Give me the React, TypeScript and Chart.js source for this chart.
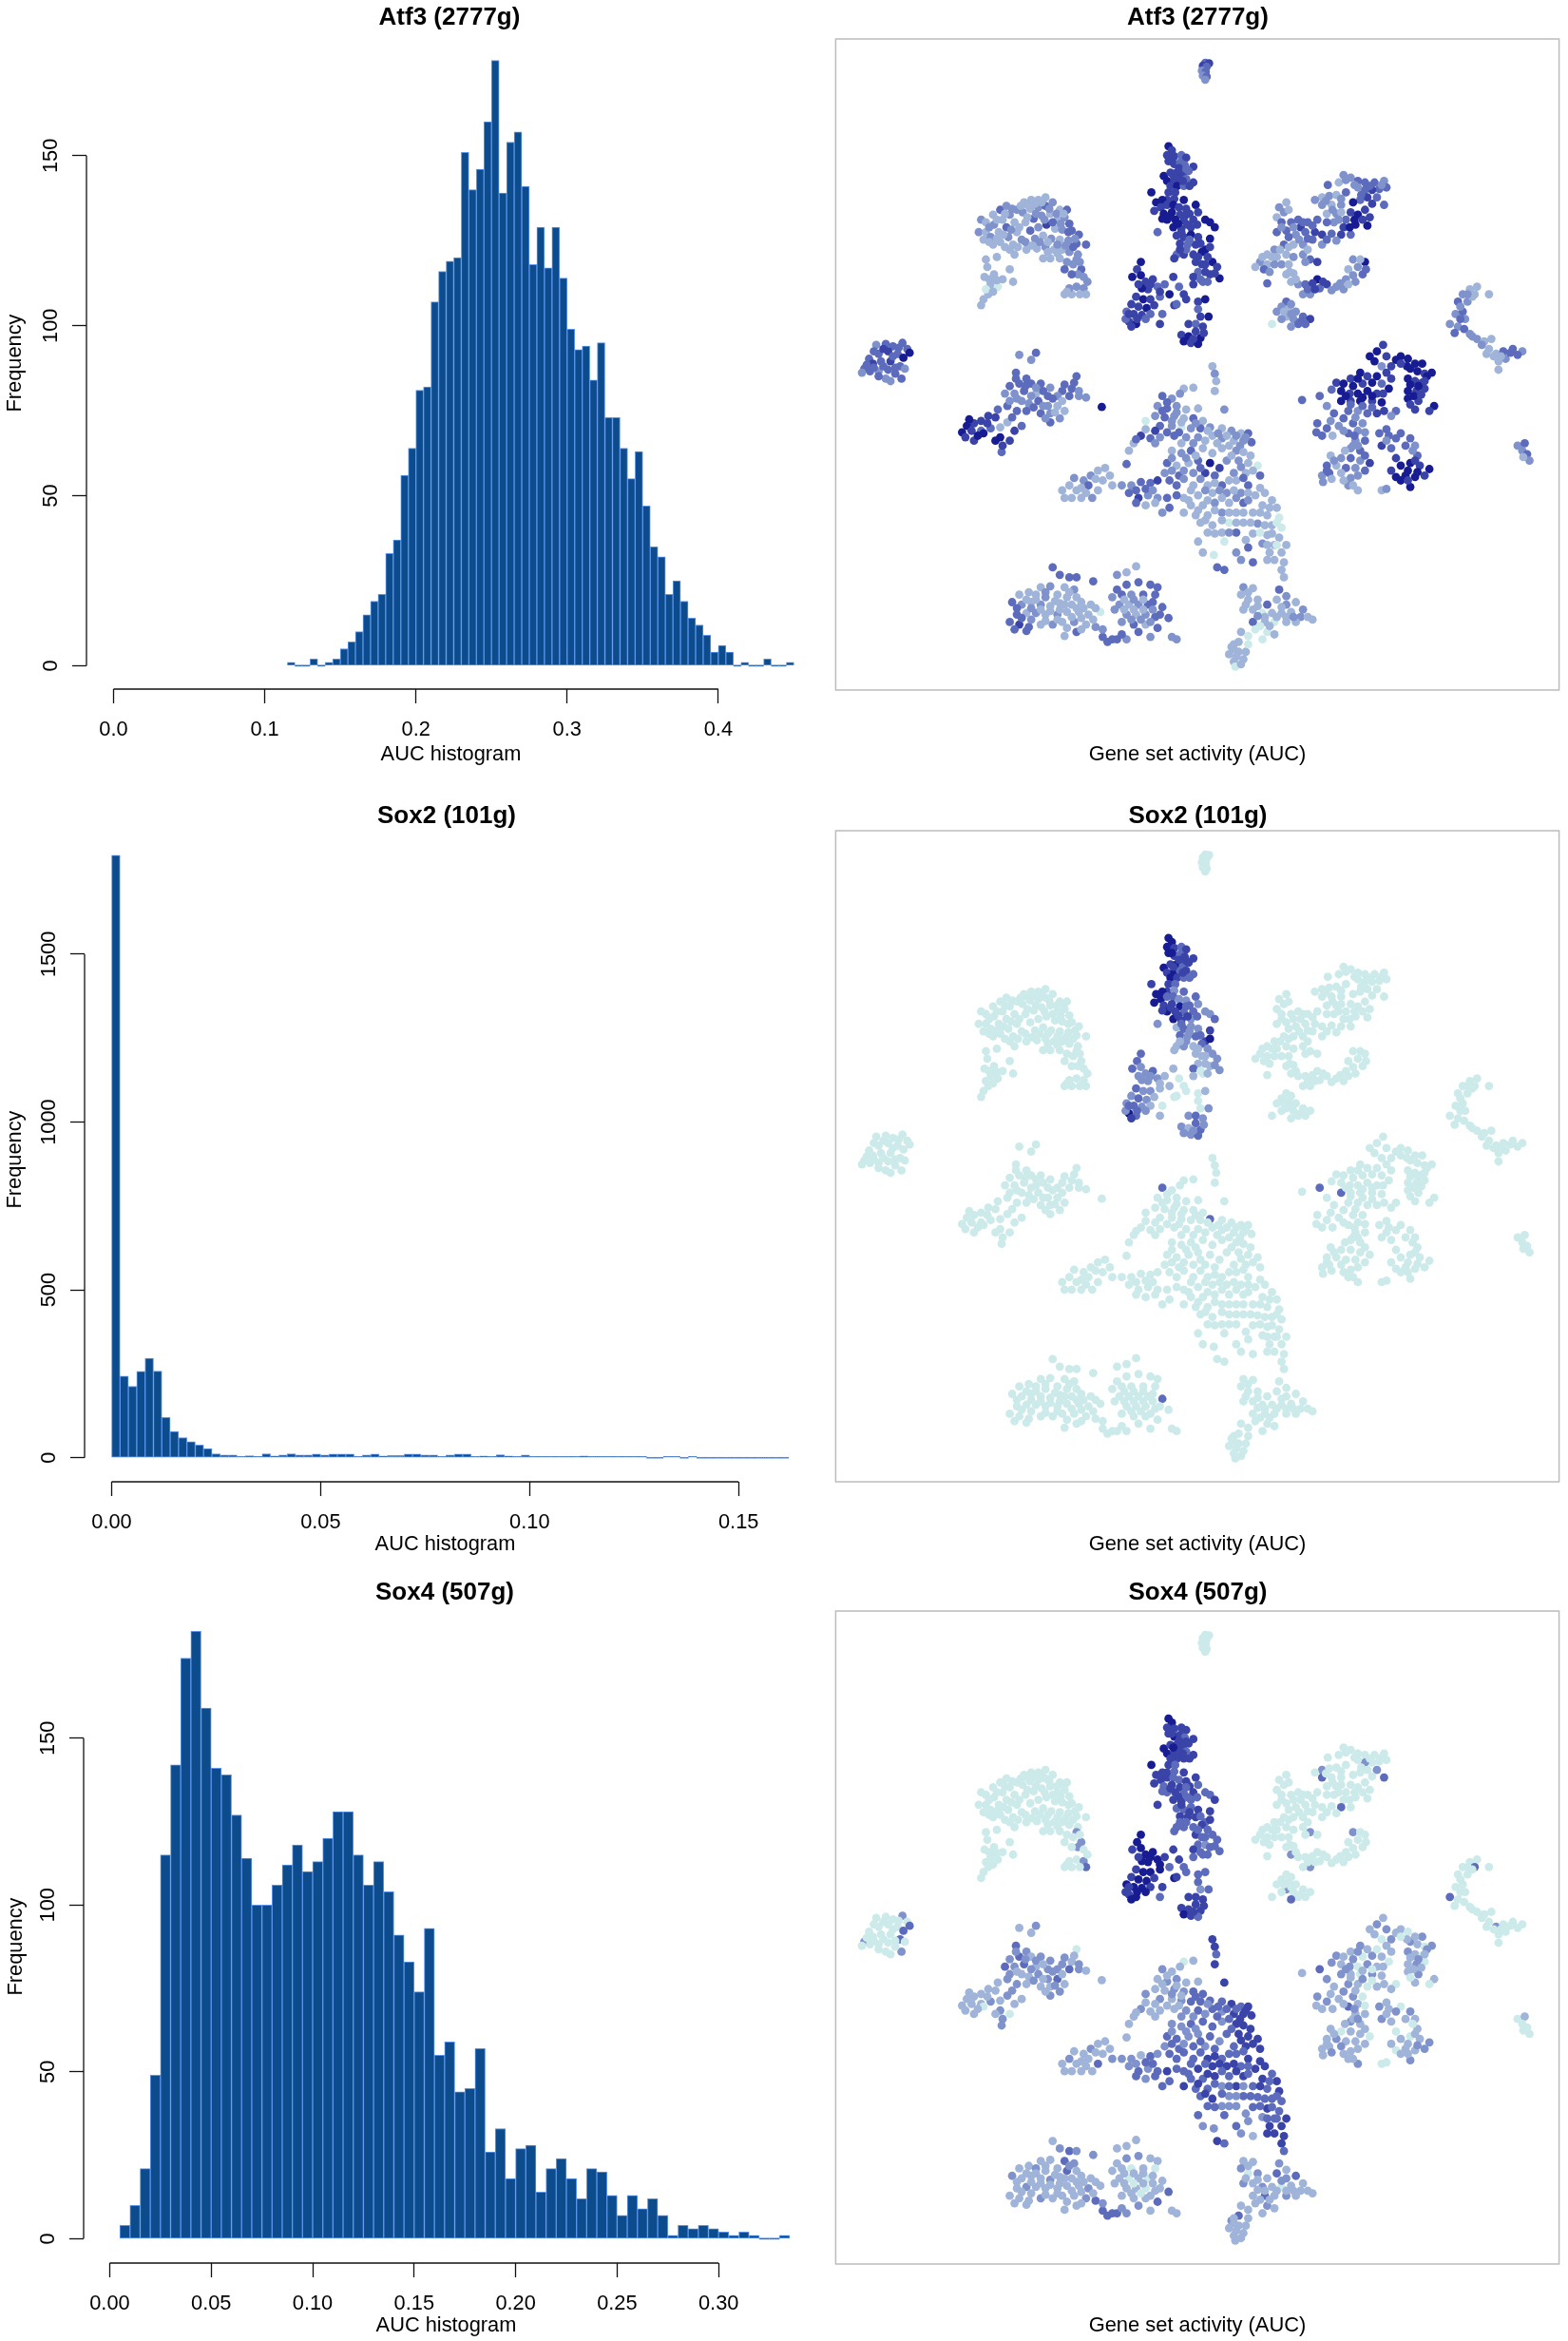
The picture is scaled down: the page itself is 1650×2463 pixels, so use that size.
import { useEffect, useRef } from "react";
import { Chart, registerables } from "chart.js";

Chart.register(...registerables);

const FONT = "'Liberation Sans', Arial, sans-serif";

// histogram counts
const atf3Start = 0.115;
const atf3Bin = 0.005;
const atf3Counts = [1, 0, 0, 2, 0, 1, 2, 5, 7, 10, 15, 19, 21, 33, 37, 56, 64, 81, 82, 107, 116, 119, 120, 151, 140, 146, 160, 178, 139, 154, 157, 141, 118, 129, 117, 129, 114, 99, 93, 94, 84, 95, 73, 73, 64, 55, 63, 47, 35, 32, 21, 25, 19, 14, 12, 9, 4, 6, 4, 0, 1, 0, 0, 2, 0, 0, 1];
const atf3XTicks = [0, 0.1, 0.2, 0.3, 0.4];
const atf3XLabels = ["0.0", "0.1", "0.2", "0.3", "0.4"];
const atf3YTicks = [0, 50, 100, 150];

const sox2Start = 0;
const sox2Bin = 0.002;
const sox2Counts = [1795, 243, 213, 257, 296, 258, 120, 78, 60, 48, 38, 27, 12, 8, 8, 2, 6, 1, 12, 5, 8, 12, 8, 8, 11, 8, 11, 11, 11, 3, 8, 11, 5, 7, 7, 11, 11, 8, 8, 4, 8, 11, 11, 1, 5, 1, 9, 5, 4, 8, 2, 2, 1, 1, 1, 1, 5, 1, 1, 4, 4, 1, 2, 2, 0, 0, 2, 2, 0, 2, 0, 0, 0, 0, 0, 0, 0, 0, 0, 0, 0];
const sox2XTicks = [0, 0.05, 0.1, 0.15];
const sox2XLabels = ["0.00", "0.05", "0.10", "0.15"];
const sox2YTicks = [0, 500, 1000, 1500];

const sox4Start = 0.005;
const sox4Bin = 0.005;
const sox4Counts = [4, 10, 21, 49, 115, 142, 174, 182, 159, 141, 139, 127, 114, 100, 100, 106, 112, 118, 110, 113, 120, 128, 128, 115, 106, 113, 104, 91, 83, 74, 93, 55, 59, 44, 45, 57, 26, 33, 18, 27, 28, 14, 21, 24, 18, 12, 21, 20, 13, 7, 13, 9, 12, 7, 1, 4, 3, 4, 3, 2, 1, 2, 1, 0, 0, 1];
const sox4XTicks = [0, 0.05, 0.1, 0.15, 0.2, 0.25, 0.3];
const sox4XLabels = ["0.00", "0.05", "0.10", "0.15", "0.20", "0.25", "0.30"];
const sox4YTicks = [0, 50, 100, 150];

// activity colour ramp, low to high
const activityColors = ["#cdeaea", "#9fb4d8", "#7f92cb", "#5c6bbb", "#3a44a8", "#181c92"];

// t-SNE cells, one list per island: [x, y, atf3 level, sox2 level, sox4 level]
const islandTop = [[815,124,3,0,0],[823,125,4,0,0],[810,130,4,0,0],[818,132,3,0,0],[808,140,2,0,0],[816,142,3,0,0],[810,150,2,0,0],[818,152,3,0,0],[815,158,2,0,0]];
const islandCentre = [
[738,292,5,5,5],[745,300,4,5,5],[735,310,4,5,4],[750,312,4,4,4],[765,310,3,3,4],[775,315,4,4,4],[738,322,4,5,4],[750,328,4,4,5],[762,325,3,3,4],[772,330,3,4,3],[790,333,4,4,4],
[728,352,5,5,5],[742,345,4,4,4],[755,345,4,5,4],[768,348,4,3,4],[780,342,3,4,4],[735,362,5,4,5],[750,360,4,5,4],[762,358,4,3,4],[775,358,3,4,3],[790,365,4,3,4],[742,372,4,5,4],[756,372,5,4,4],[770,372,3,3,4],[738,385,4,4,4],[752,385,4,3,3],
[702,385,5,4,5],[735,400,4,4,4],[725,400,5,5,4],[750,398,4,2,3],[770,400,5,3,4],
[712,405,5,5,4],[722,415,4,5,4],[735,410,4,3,4],[748,410,5,3,3],[760,415,4,2,3],[775,418,4,2,4],[795,410,5,3,4],[708,422,4,5,4],[728,428,5,4,3],[745,425,5,4,4],[762,430,4,5,4],[782,428,4,3,4],[800,425,4,2,3],[735,440,5,5,3],[752,440,5,4,4],[770,442,4,3,3],[790,440,4,3,4],[815,440,5,2,3],[825,445,5,2,3],[748,455,5,5,4],[765,458,4,4,4],[785,455,4,2,3],[835,455,5,3,4],[715,465,3,2,4],[755,472,4,1,3],[770,475,4,3,3],[785,470,5,2,3],[800,475,4,2,4],[825,478,5,4,4],[762,488,4,3,4],[778,490,3,2,4],[795,490,4,3,4],[815,500,5,4,3],[825,495,4,5,4],
[755,510,3,1,3],[770,510,4,2,3],[790,510,4,1,3],[808,505,5,3,4],[795,525,4,1,4],[808,530,4,1,3],[750,518,4,1,3],[800,545,3,1,3],[815,545,4,1,2],[830,525,5,2,3],[840,535,4,2,3],[825,550,4,1,3],[845,558,5,2,3],[790,555,4,3,4],[805,560,3,0,3],[835,548,4,2,3],
[680,525,5,3,5],[672,540,4,3,5],[662,555,5,3,4],[680,552,5,2,5],[690,565,4,2,5],[705,560,4,3,5],[695,580,4,2,5],[715,575,3,2,5],[730,570,3,1,4],[748,555,4,1,4],[760,575,3,0,4],[740,590,5,1,3],[770,590,4,0,3],[790,570,4,1,3],[810,565,3,0,3],
[670,595,4,3,4],[685,600,5,2,5],[700,600,4,2,5],[720,595,3,1,5],[660,610,4,2,4],[675,615,4,3,5],[692,618,5,2,5],[708,612,4,1,4],[650,625,3,2,5],[665,630,4,3,5],[682,632,4,2,5],[700,630,3,1,4],[655,645,4,5,4],[670,650,5,3,5],[648,640,3,2,4],[660,655,4,4,5],[720,650,4,1,3],[725,630,3,0,4],
[750,612,4,0,5],[775,600,4,0,3],[800,605,4,0,3],[815,600,5,1,3],[800,620,3,0,3],[805,635,4,0,2],[822,635,5,2,3],[780,650,4,2,4],[795,650,3,3,4],[810,655,4,2,4],[765,672,4,2,4],[780,675,5,1,4],[795,665,4,3,4],[805,678,5,3,4],[770,685,5,2,5],[785,688,4,2,4],[800,690,5,3,3],[755,610,3,0,4],
[745,322,4,5,4],[760,336,4,4,4],[775,338,3,4,4],[748,350,4,4,5],[768,362,4,4,4],[782,372,4,3,4],[725,438,5,4,3],[742,432,5,4,4],[775,430,4,3,3],[758,448,5,4,4],[778,450,4,4,3],[798,450,4,3,3],[765,465,4,3,4],[782,480,3,2,4],[805,488,4,3,3],[775,500,3,2,3],[762,500,4,1,3],[820,515,4,2,3],[800,515,4,1,3],[815,530,4,1,3],[820,565,3,1,3],[700,570,4,2,5],[682,578,5,2,5],[720,585,4,1,5],[675,570,4,2,4],[690,640,3,2,5],[672,640,4,3,5],[655,630,4,3,4],[790,680,4,2,4],[812,668,4,2,4]];
const islandUpperLeft = [
[345,440,2,0,0],[340,465,2,0,0],[355,445,1,0,0],[370,430,1,0,0],[385,420,3,0,0],[398,412,2,0,0],[355,465,1,0,0],[372,450,2,0,0],[390,440,1,0,0],[405,430,2,0,0],[420,420,2,0,0],[435,405,1,0,0],[450,400,1,0,0],[465,400,1,0,0],[480,395,1,0,0],
[350,480,1,0,0],[365,475,2,0,0],[382,465,1,0,0],[398,455,3,0,0],[415,445,1,0,0],[432,425,2,0,0],[448,418,1,0,0],[465,415,2,0,0],[480,412,3,0,0],[495,405,2,0,0],[510,420,1,0,0],[525,420,3,0,0],
[370,490,1,0,0],[385,485,1,0,0],[402,475,2,0,0],[420,465,1,0,0],[438,445,1,0,0],[455,438,3,0,0],[472,432,2,0,0],[490,428,1,0,0],[505,440,1,0,0],[520,435,2,0,0],[530,448,3,0,0],
[395,495,1,0,0],[412,490,1,0,0],[430,480,2,0,0],[448,462,3,0,0],[465,455,2,0,0],[482,450,4,0,0],[500,458,1,0,0],[515,460,2,0,0],[535,462,3,0,0],[550,470,3,0,0],
[440,500,1,0,0],[458,478,2,0,0],[475,472,1,0,0],[492,478,2,0,0],[510,480,1,0,0],[528,482,2,0,0],[545,488,3,0,0],[565,490,3,0,0],
[462,498,1,0,0],[480,495,2,0,0],[498,500,1,0,0],[515,500,1,0,0],[530,505,2,0,0],[548,510,2,0,0],[475,518,1,0,0],[490,518,1,0,0],[510,518,1,0,0],[525,525,2,0,0],[545,520,2,0,2],[555,540,3,0,2],[520,540,3,0,0],[548,550,2,0,2],
[355,520,1,0,0],[378,515,1,0,0],[358,535,1,0,0],[415,510,1,0,0],[352,555,1,0,0],[372,550,1,0,0],[390,560,1,0,0],[405,540,1,0,0],[412,565,1,0,0],[365,570,1,0,0],[380,575,0,0,0],[360,590,1,0,0],[350,600,1,0,0],[345,612,1,0,0],[355,580,0,0,0],
[520,590,1,0,0],[535,590,1,0,0],[545,575,2,0,0],[560,578,2,0,2],[568,565,2,0,0],[565,590,1,0,3],[530,578,2,0,0],
[362,455,2,0,0],[378,440,1,0,0],[395,428,1,0,0],[410,418,2,0,0],[428,412,1,0,0],[442,410,1,0,0],[458,408,1,0,0],[472,405,1,0,0],[488,418,2,0,0],[503,428,2,0,0],[518,428,1,0,0],[362,485,1,0,0],[378,478,1,0,0],[392,470,1,0,0],[408,460,2,0,0],[425,455,1,0,0],[442,435,1,0,0],[460,428,2,0,0],[478,440,2,0,0],[495,445,3,0,0],[512,448,2,0,0],[528,465,3,0,0],[542,478,2,0,0],[405,500,1,0,0],[422,495,1,0,0],[438,485,2,0,0],[452,492,1,0,0],[468,485,2,0,0],[485,485,1,0,0],[505,490,2,0,0],[522,492,2,0,0],[538,495,3,0,0],[485,505,1,0,0],[505,508,1,0,0],[538,530,2,0,0],[552,525,2,0,0],[535,550,3,0,0],[560,555,2,0,0],[362,560,1,0,0],[378,562,1,0,0],[370,585,1,0,0],[525,585,1,0,0],[552,590,1,0,0]];
const islandUpperRight = [
[1105,350,2,0,0],[1120,355,2,0,0],[1135,362,3,0,0],[1150,365,3,0,0],[1170,365,3,0,0],[1190,362,2,0,0],[1195,375,3,0,0],[1180,378,3,0,0],[1165,380,4,0,0],[1150,380,3,0,2],[1135,375,2,0,0],[1095,365,1,0,0],[1072,370,3,0,0],[1060,395,1,0,2],[1045,400,2,0,0],[1075,392,2,0,0],[1090,390,1,0,0],[1110,385,3,0,0],[1175,395,3,0,2],[1155,395,4,0,0],[1190,410,3,0,3],[1140,400,3,0,0],[1125,405,5,0,0],
[985,405,1,0,0],[970,415,2,0,0],[980,425,2,0,0],[965,435,1,0,0],[990,420,1,0,0],[1010,440,3,0,0],[1060,410,2,0,3],[1080,410,1,0,0],[1100,410,2,0,0],[1120,425,4,0,0],[1135,430,5,0,0],[1150,420,4,0,0],[1160,435,4,0,0],[1070,428,1,0,0],[1090,428,2,0,0],[1110,440,3,0,0],
[975,445,3,0,0],[995,445,3,0,0],[1015,455,4,0,0],[1030,445,3,0,0],[1050,440,3,0,0],[1085,445,2,0,0],[1105,455,4,0,0],[1130,450,5,0,0],[1155,452,5,0,0],
[965,465,3,0,0],[985,462,3,0,0],[1005,470,2,0,0],[1025,465,3,0,0],[1045,465,4,0,0],[1060,470,4,0,0],[1080,468,3,0,0],[1100,470,4,0,3],[1120,470,3,0,0],
[980,490,3,0,0],[1000,490,1,0,0],[1020,490,2,0,0],[1040,480,3,0,0],[1060,490,2,0,0],[960,500,2,0,0],[945,510,1,0,0],[965,515,1,0,0],[985,510,1,0,0],[930,525,2,0,0],[945,530,1,0,0],[960,530,2,0,0],[975,530,2,0,0],[920,535,1,0,0],[938,540,3,0,0],
[1020,510,2,0,0],[1035,520,3,0,2],[1050,525,4,0,0],[990,530,1,0,0],[1000,548,1,0,0],[995,565,1,0,2],[1010,570,2,0,0],[985,550,1,0,0],[945,568,3,0,0],
[1125,520,2,0,2],[1150,525,5,0,0],[1135,535,2,0,0],[1115,540,1,0,0],[1145,550,3,0,0],[1110,560,2,0,0],[1130,565,2,0,0],[1090,575,2,0,0],[1105,580,2,0,0],[1070,570,4,0,0],[1050,560,5,0,0],[1025,570,3,0,0],[1040,568,4,0,0],[1055,578,3,0,0],[1035,590,2,0,2],[1020,590,2,0,0],[1115,570,1,0,0],
[985,605,3,0,0],[975,615,2,0,0],[965,625,2,0,0],[990,620,1,0,0],[1005,625,2,0,0],[985,635,1,0,2],[1000,640,2,0,0],[1020,635,3,0,0],[1035,640,4,0,0],[975,640,2,0,0],[1010,650,3,0,0],[995,655,2,0,3],[955,650,0,0,0],
[1110,360,2,0,0],[1128,370,2,0,0],[1160,372,3,0,0],[1185,370,2,0,0],[1142,390,3,0,0],[1165,408,4,0,0],[1100,398,2,0,0],[1068,402,2,0,0],[1082,420,2,0,0],[1100,425,1,0,0],[1128,440,5,0,0],[1145,440,4,0,0],[1118,455,5,0,0],[1095,440,2,0,0],[1070,445,3,0,0],[1040,452,3,0,0],[1020,445,3,0,0],[1000,455,2,0,0],[975,455,2,0,0],[990,475,3,0,0],[1012,480,2,0,0],[1030,478,3,0,0],[1070,480,3,0,0],[1090,482,2,0,0],[972,500,1,0,0],[955,515,1,0,0],[935,515,1,0,0],[950,545,2,0,0],[990,495,1,0,0],[1000,515,2,0,0],[1025,525,2,0,0],[1030,500,1,0,0],[992,545,1,0,0],[1005,560,1,0,0],[1125,552,2,0,0],[1140,520,1,0,0],[1152,540,3,0,0],[1098,568,2,0,0],[1080,582,2,0,0],[1062,565,4,0,0],[1030,580,3,0,0],[1045,580,4,0,0],[980,625,1,0,0],[995,630,2,0,0],[1015,645,3,0,0],[1025,650,3,0,0],[995,610,2,0,0]];
const islandRightArc = [
[1385,575,1,0,0],[1370,580,1,0,0],[1380,590,1,0,3],[1355,590,2,0,0],[1345,605,3,0,0],[1365,605,2,0,0],[1410,590,1,0,0],[1340,630,2,0,0],[1355,625,3,0,0],[1360,640,2,0,0],[1328,650,2,0,3],[1345,655,2,0,0],[1358,660,3,0,0],[1338,668,3,0,0],[1370,670,2,0,0],[1385,680,2,0,0],[1400,685,1,0,0],[1415,680,1,0,0],[1410,700,1,0,0],[1425,710,1,0,2],[1440,705,3,0,0],[1460,700,3,0,0],[1480,705,2,0,0],[1420,715,1,0,0],[1445,720,2,0,0],[1430,742,1,0,0],[1430,725,1,0,0],[1470,712,3,0,0],
[1350,615,2,0,0],[1350,640,3,0,0],[1375,675,2,0,0],[1395,692,2,0,0],[1405,710,1,0,0],[1435,715,1,0,0],[1455,708,3,0,0],[1375,595,1,0,0],[1365,590,2,0,0]];
const islandFarLeft = [
[125,692,2,0,0],[145,690,3,0,0],[160,695,3,0,0],[180,688,3,0,2],[190,700,3,0,0],[195,708,5,0,3],[110,720,3,0,0],[130,710,3,0,0],[150,705,4,0,0],[170,710,3,0,0],[182,718,5,0,3],[100,740,3,0,2],[118,730,4,0,0],[135,725,3,0,0],[155,725,4,0,0],[175,735,3,0,3],[95,748,2,0,0],[112,745,3,0,0],[130,745,2,0,0],[150,742,3,0,0],[185,740,2,0,0],[145,760,2,0,0],[155,765,2,0,0],[178,760,3,0,2],[130,755,3,0,0],[165,750,3,0,0],
[120,705,3,0,0],[140,700,4,0,0],[172,698,3,0,0],[140,735,3,0,0],[165,738,3,0,0],[120,738,3,0,0],[105,732,3,0,0],[160,715,3,0,0]];
const islandMidLeft = [
[425,712,2,0,1],[460,708,3,0,2],[450,722,2,0,1],[418,748,3,0,3],[440,760,3,0,2],[405,775,3,0,2],[425,770,3,0,3],[450,770,3,0,1],[470,770,3,0,2],[490,778,2,0,2],[515,785,3,0,2],[545,755,3,0,0],[535,780,3,0,1],[550,785,2,0,2],[395,790,2,0,3],[415,790,2,0,2],[435,785,3,0,3],[460,790,1,0,1],[485,795,3,0,2],[505,795,2,0,2],[530,795,3,0,3],[550,795,2,0,2],[565,798,2,0,1],
[430,805,2,0,1],[445,810,2,0,1],[465,805,3,0,2],[485,815,2,0,2],[505,815,1,0,3],[520,825,1,0,1],[400,815,3,0,2],[380,822,3,0,1],[360,835,4,0,1],[420,825,3,0,2],[440,825,3,0,1],[470,830,3,0,1],[490,830,2,0,1],[510,840,2,0,2],[490,848,3,0,2],[345,845,4,0,1],[330,850,4,0,1],[315,855,5,0,1],[305,868,5,0,1],[325,865,4,0,1],[345,865,3,0,1],[365,860,3,0,2],[400,848,1,0,2],[430,855,3,0,1],[598,817,5,0,1],[330,885,4,0,1],[350,870,5,0,0],[385,878,5,0,2],[405,885,4,0,0],[388,908,3,0,2],[415,865,4,0,1],
[418,760,3,0,2],[438,775,3,0,2],[460,778,2,0,2],[475,785,3,0,1],[520,772,3,0,2],[540,768,3,0,1],[405,805,2,0,2],[420,800,2,0,1],[450,795,2,0,2],[475,815,2,0,1],[495,800,3,0,2],[515,805,1,0,1],[500,828,1,0,2],[480,840,2,0,1],[455,818,3,0,2],[410,838,3,0,2],[375,838,4,0,1],[385,858,1,0,1],[320,842,5,0,1],[312,878,4,0,1],[338,875,5,0,1],[358,850,4,0,1],[375,885,5,0,1],[390,895,4,0,2]];
const islandMidRight = [
[1188,692,4,0,1],[1175,705,5,0,2],[1160,715,5,0,1],[1225,715,5,0,1],[1240,720,5,0,0],[1270,730,5,0,2],[1290,748,5,0,2],[1140,748,5,0,2],[1120,760,4,0,1],[1185,735,2,0,0],[1205,735,4,0,2],[1215,722,5,0,1],[1245,740,5,0,2],[1260,745,5,0,1],[1275,750,4,0,0],
[1090,768,4,0,2],[1105,770,5,0,1],[1125,775,5,0,2],[1145,770,4,0,0],[1165,768,5,0,2],[1185,770,3,0,1],[1205,760,4,0,1],[1240,760,5,0,2],[1255,765,4,0,1],[1270,768,4,0,0],[1280,755,5,0,2],
[1080,782,3,0,2],[1100,785,5,0,1],[1118,790,4,0,2],[1135,790,5,0,0],[1155,785,5,0,2],[1175,790,4,0,1],[1200,780,5,0,0],[1240,785,5,0,1],[1258,785,4,0,2],[1275,780,4,0,0],
[1018,803,3,0,1],[1055,795,3,3,3],[1100,805,5,3,2],[1120,805,4,0,1],[1140,805,5,0,0],[1165,805,4,0,2],[1185,808,5,0,1],[1240,800,5,0,1],[1262,805,4,0,2],[1295,815,5,0,1],[1285,825,4,0,0],[1255,822,4,0,1],
[1070,815,2,0,2],[1085,830,3,0,1],[1115,825,3,0,2],[1135,825,2,0,1],[1155,830,3,0,0],[1215,825,3,0,0],[1205,835,2,0,1],[1175,830,4,0,1],
[1050,850,3,0,2],[1070,860,3,0,2],[1095,855,2,0,1],[1125,850,3,0,2],[1145,850,2,0,0],[1135,865,2,0,1],[1115,870,3,0,3],[1060,875,3,0,1],[1180,870,3,0,2],[1200,875,3,0,1],[1225,870,3,0,0],[1245,880,3,0,2],
[1130,885,2,0,1],[1150,885,3,0,1],[1120,900,2,0,2],[1140,905,3,0,1],[1185,895,4,0,2],[1205,900,3,0,1],[1255,895,2,0,1],[1078,915,1,0,1],[1100,920,2,0,0],[1120,920,3,0,1],[1140,925,2,0,1],[1160,930,4,0,0],[1215,920,4,0,0],[1260,915,3,0,1],
[1070,935,3,0,1],[1090,935,1,0,2],[1110,940,3,0,1],[1130,940,2,0,1],[1225,935,5,0,1],[1245,930,5,0,0],[1265,935,4,0,1],[1285,942,5,0,2],
[1060,955,2,0,1],[1075,950,3,0,1],[1100,950,1,0,2],[1120,960,2,0,1],[1150,945,3,0,1],[1215,958,5,0,0],[1235,955,5,0,1],[1255,958,5,0,1],[1275,955,4,0,2],
[1062,968,2,0,1],[1115,975,2,0,1],[1135,985,1,0,2],[1185,985,1,0,0],[1245,978,5,0,2],
[1170,725,5,0,1],[1195,715,4,0,2],[1238,735,5,0,1],[1255,730,5,0,1],[1275,765,4,0,1],[1262,775,5,0,2],[1245,772,5,0,1],[1225,730,4,0,0],[1135,760,5,0,2],[1155,755,4,0,1],[1175,755,5,0,0],[1195,748,4,0,1],[1110,795,5,0,2],[1145,798,5,0,1],[1165,795,5,0,0],[1188,790,4,0,1],[1252,795,5,0,1],[1268,792,4,0,1],[1245,812,4,0,0],[1105,840,3,0,2],[1130,838,2,0,1],[1120,812,3,0,1],[1145,815,3,0,2],[1165,818,3,0,0],[1190,825,4,0,1],[1078,845,2,0,1],[1048,868,3,0,1],[1082,875,1,0,1],[1105,865,2,0,1],[1128,875,3,0,2],[1125,895,2,0,1],[1150,868,2,0,0],[1195,862,3,0,1],[1215,880,3,0,2],[1235,895,3,0,1],[1250,905,2,0,0],[1195,885,2,0,1],[1135,895,2,0,2],[1108,905,1,0,1],[1085,925,2,0,1],[1150,915,3,0,1],[1255,925,4,0,1],[1240,945,5,0,1],[1260,948,5,0,2],[1205,945,4,0,1],[1225,965,5,0,1],[1135,955,2,0,1],[1080,962,1,0,2],[1070,945,3,0,1],[1105,965,1,0,1],[1125,975,1,0,1],[1195,982,2,0,0],[1240,965,4,0,1]];
const islandFarRight = [[1470,895,2,0,0],[1485,890,3,0,1],[1480,905,2,0,0],[1490,912,3,0,0],[1495,925,2,0,0],[1482,918,1,0,0]];
const islandCentreBig = [
[830,735,1,0,4],[835,750,2,0,4],[838,765,1,0,3],[835,785,1,0,4],[770,780,1,0,0],[790,778,1,0,1],[762,790,2,0,1],
[725,795,3,3,2],[745,800,2,0,1],[715,815,2,0,1],[735,820,3,0,2],[755,815,2,0,2],[775,822,1,0,1],[800,820,1,0,1],[855,822,2,0,4],
[710,835,2,0,1],[730,838,3,0,1],[750,835,2,0,2],[770,840,1,0,2],[790,840,3,0,3],[810,845,1,0,3],[690,845,0,0,2],
[720,855,3,0,2],[745,855,2,0,1],[765,858,0,0,2],[785,860,2,0,3],[805,860,3,0,3],[825,858,2,3,3],[850,860,1,0,3],[870,865,2,0,4],[890,870,1,0,3],[905,870,3,0,4],
[680,875,4,0,2],[700,880,3,0,1],[720,878,2,0,1],[750,875,3,0,1],[775,878,2,0,2],[800,878,2,0,3],[830,875,1,0,3],[850,880,2,0,2],[875,885,1,0,4],[895,885,2,0,4],[912,888,3,0,4],
[665,890,1,0,1],[655,905,1,0,1],[745,905,1,0,2],[765,910,2,0,2],[785,905,3,0,3],[810,900,1,0,3],[850,900,1,0,2],[880,905,2,0,4],[910,915,1,0,4],
[735,930,3,0,3],[755,935,1,0,3],[780,930,1,0,2],[800,925,3,0,2],[825,930,5,0,3],[860,925,2,0,3],[885,925,2,0,4],[925,935,0,0,4],[905,930,1,0,4],[650,932,3,0,1],
[730,950,2,0,2],[760,955,3,0,3],[790,950,2,0,3],[815,950,4,0,2],[835,955,3,0,3],[875,950,2,0,3],[900,950,1,0,4],[930,955,3,0,4],
[605,940,1,0,1],[590,945,1,0,1],[575,955,2,0,2],[615,955,1,0,1],[600,965,1,0,1],[560,965,2,0,1],[540,960,2,0,1],[530,975,1,0,2],[515,985,1,0,1],[545,985,1,0,1],[570,975,3,0,1],[590,985,1,0,3],[535,1000,1,0,1],[555,1000,1,0,1],[578,1000,2,0,1],[620,975,1,0,2],
[640,975,2,0,2],[660,975,2,0,2],[680,968,3,0,1],[700,970,3,0,3],[715,965,4,0,2],[755,975,3,0,3],[790,975,1,0,3],[820,975,1,0,4],[850,975,3,0,3],[880,965,1,0,3],[905,975,3,0,4],[930,980,1,0,4],
[655,990,3,0,2],[675,1000,4,0,3],[695,995,2,0,2],[715,1000,2,0,3],[670,1010,3,0,3],[690,1015,1,0,2],[710,1010,1,0,3],[740,1020,3,0,3],[725,1030,2,0,3],[770,1000,1,0,3],[800,995,1,0,4],[830,990,1,0,4],[860,990,2,0,4],[890,990,2,0,3],[920,995,1,0,4],[955,1005,1,0,3],
[785,1015,1,0,3],[810,1015,1,0,3],[835,1010,2,0,4],[865,1010,1,0,3],[895,1010,3,0,4],[935,1015,1,0,4],[965,1020,1,0,4],[770,1030,1,0,4],[795,1035,1,0,3],[820,1035,1,0,3],[850,1030,2,0,2],[880,1030,1,0,4],[915,1030,1,0,3],[945,1035,1,0,3],[970,1040,0,0,4],
[805,1050,1,0,3],[830,1055,1,0,4],[865,1050,0,0,2],[895,1050,1,0,3],[925,1052,2,0,3],[955,1055,1,0,3],[975,1060,0,0,3],[820,1070,1,0,3],[850,1070,1,0,2],[880,1070,3,0,2],[915,1072,1,0,3],[945,1075,1,0,4],[970,1080,1,0,3],
[800,1088,1,0,3],[855,1088,0,0,3],[900,1085,1,0,2],[935,1092,2,0,2],[960,1095,1,0,3],[985,1095,1,0,4],[810,1110,1,0,2],[880,1110,2,0,3],[905,1100,3,0,2],[950,1110,1,0,4],[975,1110,1,0,4],[833,1115,0,0,2],[890,1125,2,0,2],[915,1130,3,0,1],[945,1125,1,0,4],[980,1130,1,0,4],[840,1140,3,0,4],[855,1145,3,0,3],[975,1145,1,0,4],[980,1160,1,0,3],
[735,808,3,0,1],[755,828,2,0,1],[725,825,3,0,1],[745,845,2,0,2],[765,848,1,0,1],[795,850,2,0,3],[820,865,1,0,2],[842,870,2,0,3],[860,875,1,0,3],[880,875,2,0,3],[900,878,2,0,4],[735,868,3,0,1],[760,868,3,0,1],[710,865,4,0,1],[690,862,1,0,1],[670,882,3,0,1],[710,890,2,0,1],[765,890,1,0,2],[790,890,2,0,2],[815,885,1,0,2],[840,890,1,0,3],[865,895,1,0,3],[888,895,2,0,4],[775,920,2,0,2],[745,920,2,0,2],[795,915,1,0,2],[830,910,1,0,3],[870,915,1,0,3],[895,908,1,0,4],[745,945,2,0,3],[770,945,2,0,2],[805,940,3,0,3],[845,940,4,0,2],[890,938,2,0,4],[915,945,1,0,4],[865,965,1,0,3],[895,960,3,0,3],[805,962,2,0,3],[835,970,1,0,4],[770,962,2,0,3],[740,965,3,0,3],[670,985,3,0,2],[690,982,3,0,3],[705,985,2,0,3],[735,1000,3,0,4],[755,995,3,0,3],[785,985,1,0,3],[815,985,2,0,3],[845,985,2,0,4],[875,985,1,0,4],[905,990,1,0,3],[940,990,1,0,4],[780,1005,1,0,3],[820,1005,1,0,4],[850,1000,1,0,3],[880,1000,2,0,4],[905,1005,2,0,3],[950,1020,1,0,3],[930,1030,1,0,4],[800,1025,1,0,4],[835,1025,1,0,3],[865,1030,1,0,3],[895,1030,1,0,2],[815,1045,1,0,4],[850,1045,1,0,3],[880,1050,1,0,2],[910,1050,1,0,3],[940,1055,1,0,3],[965,1050,0,0,3],[835,1072,1,0,3],[865,1070,2,0,2],[930,1070,0,0,3],[955,1072,1,0,3],[965,1095,0,0,3],[945,1095,1,0,3],[960,1125,1,0,4],[555,980,1,0,1],[565,990,1,0,1],[520,1000,1,0,1],[585,962,1,0,1]];
const islandBottomLeft = [
[495,1140,3,0,1],[510,1155,3,0,2],[530,1160,3,0,3],[545,1160,3,0,2],[580,1168,3,0,2],[670,1138,1,0,1],[650,1150,1,0,1],[630,1155,2,0,1],
[470,1180,1,0,1],[490,1178,2,0,1],[520,1180,1,0,3],[540,1185,2,0,2],[630,1185,3,0,1],[650,1175,3,0,2],[675,1170,3,0,2],[700,1175,3,0,1],[715,1180,3,0,1],
[425,1195,1,0,1],[445,1190,1,0,1],[460,1195,1,0,2],[480,1200,2,0,1],[505,1195,1,0,1],[525,1200,1,0,3],[545,1200,1,0,1],[620,1200,2,0,1],[640,1195,3,0,1],[660,1195,2,0,0],[685,1195,3,0,1],[710,1195,3,0,0],
[410,1210,3,0,2],[430,1215,2,0,1],[450,1210,1,0,1],[470,1215,2,0,1],[490,1218,1,0,2],[510,1212,1,0,1],[535,1215,1,0,1],[555,1210,1,0,1],[575,1215,1,0,1],[635,1215,2,0,1],[655,1215,1,0,0],[675,1215,2,0,1],[695,1215,3,0,0],[725,1220,3,3,1],
[420,1235,3,0,1],[440,1232,1,0,2],[460,1232,2,0,1],[480,1235,1,0,1],[505,1235,2,0,1],[525,1230,1,0,1],[550,1230,1,0,1],[570,1235,1,0,2],[595,1230,0,0,1],[650,1235,2,0,1],[670,1235,1,0,1],[690,1235,2,0,0],[710,1240,3,0,1],[738,1242,3,0,3],
[405,1250,3,0,1],[425,1255,4,0,1],[445,1260,3,0,1],[470,1255,1,0,2],[495,1255,2,0,1],[515,1250,1,0,1],[540,1250,2,0,1],[565,1255,1,0,2],[585,1260,2,0,3],[640,1250,2,0,1],[665,1255,3,0,1],[690,1255,1,0,1],[715,1262,3,0,3],
[415,1265,3,0,1],[440,1268,3,0,1],[520,1278,1,0,1],[545,1270,3,0,1],[600,1280,3,0,3],[610,1290,3,0,3],[630,1285,3,0,3],[650,1285,2,0,2],[700,1280,2,0,1],[745,1280,2,0,1],[755,1285,2,0,1],[675,1270,3,0,2],
[440,1205,1,0,1],[460,1205,1,0,1],[480,1190,2,0,1],[500,1208,1,0,1],[520,1215,1,0,1],[545,1222,1,0,1],[560,1222,1,0,1],[585,1222,1,0,1],[420,1222,3,0,1],[450,1222,2,0,1],[470,1225,1,0,1],[490,1228,1,0,1],[510,1225,1,0,1],[535,1240,1,0,1],[555,1242,1,0,1],[580,1245,1,0,1],[430,1242,3,0,1],[450,1245,2,0,1],[480,1248,1,0,1],[505,1245,1,0,1],[525,1262,1,0,1],[555,1265,1,0,1],[530,1190,1,0,2],[645,1205,1,0,1],[665,1205,2,0,1],[685,1205,1,0,1],[705,1210,3,0,1],[625,1225,2,0,1],[645,1225,1,0,1],[665,1225,1,0,0],[685,1225,1,0,1],[705,1225,2,0,1],[720,1235,3,0,1],[660,1245,2,0,1],[680,1245,2,0,0],[700,1250,2,0,1],[620,1285,3,0,3],[640,1275,3,0,2],[600,1265,2,0,2]];
const islandBottomMid = [
[895,1180,2,0,1],[915,1182,1,0,1],[970,1185,3,0,2],[985,1198,2,0,1],[890,1195,1,0,2],[905,1205,1,0,0],[925,1205,1,0,2],[945,1215,3,0,1],[965,1205,1,0,3],[985,1215,2,0,2],[1005,1210,1,0,3],[1020,1225,2,0,1],
[895,1225,1,0,2],[915,1225,1,0,1],[935,1232,0,0,2],[955,1232,1,0,1],[975,1232,1,0,0],[995,1230,1,0,1],[1015,1240,2,0,1],[1040,1245,1,0,1],
[915,1250,3,0,1],[940,1250,1,0,3],[960,1250,0,0,1],[985,1250,1,0,2],[1005,1250,1,0,1],[920,1265,0,0,1],[945,1270,0,0,2],[890,1270,1,0,1],[905,1278,0,0,1],[935,1285,0,0,1],[960,1275,1,0,1],
[870,1300,1,0,2],[885,1290,1,0,3],[865,1315,1,0,1],[885,1310,1,0,1],[900,1310,1,0,1],[875,1330,1,0,1],[895,1325,1,0,1],[878,1340,0,0,1],
[905,1190,1,0,1],[900,1215,1,0,1],[925,1218,1,0,1],[940,1240,1,0,1],[965,1240,1,0,1],[985,1240,1,0,1],[1000,1240,2,0,1],[1030,1240,1,0,1],[925,1238,2,0,1],[975,1220,1,0,2],[950,1258,1,0,1],[930,1258,0,0,1],[875,1305,1,0,1],[880,1320,1,0,1],[890,1335,1,0,1],[875,1295,1,0,1],[905,1295,0,0,1]];

const allCells = [...islandTop, ...islandUpperLeft, ...islandFarLeft, ...islandUpperRight, ...islandRightArc, ...islandFarRight, ...islandMidLeft, ...islandMidRight, ...islandBottomLeft, ...islandBottomMid, ...islandCentreBig, ...islandCentre];

const rAxisLines = {
  id: "rAxisLines",
  afterDraw(chart: any) {
    const { ctx, chartArea, scales } = chart;
    const { x, y } = scales;
    ctx.save();
    ctx.strokeStyle = "#111";
    ctx.lineWidth = 1.3;
    ctx.beginPath();
    ctx.moveTo(x.getPixelForValue(x.ticks[0].value), chartArea.bottom);
    ctx.lineTo(x.getPixelForValue(x.ticks[x.ticks.length - 1].value), chartArea.bottom);
    ctx.moveTo(chartArea.left, y.getPixelForValue(y.ticks[0].value));
    ctx.lineTo(chartArea.left, y.getPixelForValue(y.ticks[y.ticks.length - 1].value));
    ctx.stroke();
    ctx.restore();
  },
};

const panelBox = {
  id: "panelBox",
  afterDraw(chart: any) {
    const { ctx, chartArea } = chart;
    ctx.save();
    ctx.strokeStyle = "#bcbcbc";
    ctx.lineWidth = 1.5;
    ctx.strokeRect(chartArea.left, chartArea.top, chartArea.width, chartArea.height);
    ctx.restore();
  },
};

function zeroPadding(scale: any) {
  scale.paddingLeft = 0;
  scale.paddingRight = 0;
  scale.paddingTop = 0;
  scale.paddingBottom = 0;
}

function titleOptions(text: string, titleY: number, top: number, areaTop: number) {
  const lineHeight = 26 * 1.2;
  const padTop = titleY - top - lineHeight / 2;
  return {
    display: true,
    text,
    color: "#000",
    font: { family: FONT, size: 26, weight: "bold" as const },
    padding: { top: padTop, bottom: areaTop - top - padTop - lineHeight },
  };
}

interface HistProps {
  title: string; counts: number[]; start: number; bin: number;
  xTicks: number[]; xLabels: string[]; yTicks: number[];
  top: number; width: number; height: number;
  titleY: number; areaTop: number; areaBottom: number; areaLeft: number; areaRight: number;
  xMin: number; xMax: number; yMin: number; yMax: number;
  yTickPad: number; xTitleY: number; yTitleX: number;
}

function Histogram(p: HistProps) {
  const canvasRef = useRef<HTMLCanvasElement>(null);

  useEffect(() => {
    if (!canvasRef.current) return;
    const tickGrid = { drawOnChartArea: false, drawTicks: true, tickLength: 15, tickColor: "#111", tickWidth: 1.3, offset: false };
    const chart = new Chart(canvasRef.current, {
      type: "bar",
      data: {
        datasets: [{
          data: p.counts.map((y, i) => ({ x: p.start + (i + 0.5) * p.bin, y })),
          backgroundColor: "#0c4b8c",
          borderColor: "#5c94ec",
          borderWidth: 1,
          borderSkipped: false,
          minBarLength: 1.5,
          barPercentage: 1,
          categoryPercentage: 1,
        }],
      },
      options: {
        responsive: false,
        animation: false,
        plugins: {
          legend: { display: false },
          tooltip: { enabled: false },
          title: titleOptions(p.title, p.titleY, p.top, p.areaTop),
        },
        scales: {
          x: {
            type: "linear",
            offset: false,
            min: p.xMin,
            max: p.xMax,
            afterBuildTicks: (s: any) => { s.ticks = p.xTicks.map((value) => ({ value })); },
            afterFit: (s: any) => { s.height = p.top + p.height - p.areaBottom; zeroPadding(s); },
            grid: tickGrid,
            border: { display: false },
            ticks: {
              autoSkip: false, maxRotation: 0, minRotation: 0, padding: 15, color: "#000",
              font: { family: FONT, size: 21.8 },
              callback: (_v: any, i: number) => p.xLabels[i],
            },
            title: {
              display: true, text: "AUC histogram", color: "#000",
              font: { family: FONT, size: 21.8 },
              padding: { top: 0, bottom: p.top + p.height - p.xTitleY - 13 },
            },
          },
          y: {
            min: p.yMin,
            max: p.yMax,
            afterBuildTicks: (s: any) => { s.ticks = p.yTicks.map((value) => ({ value })); },
            afterFit: (s: any) => { s.width = p.areaLeft; zeroPadding(s); },
            grid: tickGrid,
            border: { display: false },
            ticks: {
              autoSkip: false, minRotation: 90, maxRotation: 90, crossAlign: "center", padding: p.yTickPad, color: "#000",
              font: { family: FONT, size: 21.8 },
              callback: (v: any) => String(v),
            },
            title: {
              display: true, text: "Frequency", color: "#000",
              font: { family: FONT, size: 21.8 },
              padding: { top: p.yTitleX - 13, bottom: 0 },
            },
          },
          // empty axis on the right, keeps the plot clear of the centred title's span
          spare: {
            type: "linear",
            position: "right",
            afterFit: (s: any) => { s.width = p.width - p.areaRight; zeroPadding(s); },
            grid: { display: false }, border: { display: false }, ticks: { display: false },
          },
        },
      } as any,
      plugins: [rAxisLines],
    });
    return () => { chart.destroy(); };
  }, []);

  return <canvas ref={canvasRef} width={p.width} height={p.height} style={{ position: "absolute", left: 0, top: p.top }} />;
}

interface TsneProps {
  title: string; levelIndex: number; top: number; height: number;
  titleY: number; areaTop: number; areaBottom: number; xTitleY: number;
}

function TsnePanel(p: TsneProps) {
  const canvasRef = useRef<HTMLCanvasElement>(null);

  useEffect(() => {
    if (!canvasRef.current) return;
    const chart = new Chart(canvasRef.current, {
      type: "scatter",
      data: {
        datasets: [{
          data: allCells.map((c) => ({ x: c[0], y: c[1] })),
          pointBackgroundColor: allCells.map((c) => activityColors[c[p.levelIndex]]),
          pointBorderWidth: 0,
          pointRadius: 4.4,
        }],
      },
      options: {
        responsive: false,
        animation: false,
        layout: { padding: { left: 3, right: 2, top: 0, bottom: 0 } },
        plugins: {
          legend: { display: false },
          tooltip: { enabled: false },
          title: titleOptions(p.title, p.titleY, p.top, p.areaTop),
        },
        scales: {
          x: {
            type: "linear", min: 40, max: 1557,
            afterFit: (s: any) => { s.height = p.top + p.height - p.areaBottom; zeroPadding(s); },
            grid: { display: false }, border: { display: false }, ticks: { display: false },
            title: {
              display: true, text: "Gene set activity (AUC)", color: "#000",
              font: { family: FONT, size: 21.9 },
              padding: { top: 0, bottom: p.top + p.height - p.xTitleY - 13 },
            },
          },
          y: {
            type: "linear", min: 76, max: 1387, reverse: true,
            afterFit: (s: any) => { s.width = 0; zeroPadding(s); },
            display: true, grid: { display: false }, border: { display: false }, ticks: { display: false },
          },
        },
      } as any,
      plugins: [panelBox],
    });
    return () => { chart.destroy(); };
  }, []);

  return <canvas ref={canvasRef} width={770} height={p.height} style={{ position: "absolute", left: 875, top: p.top }} />;
}

export default function App() {
  return (
    <div style={{ position: "absolute", left: 0, top: 0, width: 1650, height: 2463, overflow: "hidden", background: "#fff" }}>
      <Histogram title="Atf3 (2777g)" counts={atf3Counts} start={atf3Start} bin={atf3Bin} xTicks={atf3XTicks} xLabels={atf3XLabels} yTicks={atf3YTicks}
        top={0} width={946} height={810} titleY={18.7} areaTop={39} areaBottom={725} areaLeft={91} areaRight={858}
        xMin={-0.0179} xMax={0.4642} yMin={-6.87} yMax={184.9} yTickPad={3.5} xTitleY={794.5} yTitleX={16} />
      <TsnePanel title="Atf3 (2777g)" levelIndex={2} top={0} height={810} titleY={18.7} areaTop={41} areaBottom={726} xTitleY={794.5} />
      <Histogram title="Sox2 (101g)" counts={sox2Counts} start={sox2Start} bin={sox2Bin} xTicks={sox2XTicks} xLabels={sox2XLabels} yTicks={sox2YTicks}
        top={840} width={940} height={800} titleY={859} areaTop={881} areaBottom={1559} areaLeft={89} areaRight={848}
        xMin={-0.00648} xMax={0.1661} yMin={-71.6} yMax={1848} yTickPad={-2} xTitleY={1625.5} yTitleX={16} />
      <TsnePanel title="Sox2 (101g)" levelIndex={3} top={840} height={800} titleY={859} areaTop={874} areaBottom={1559} xTitleY={1625.5} />
      <Histogram title="Sox4 (507g)" counts={sox4Counts} start={sox4Start} bin={sox4Bin} xTicks={sox4XTicks} xLabels={sox4XLabels} yTicks={sox4YTicks}
        top={1657} width={936} height={806} titleY={1675.5} areaTop={1715} areaBottom={2381} areaLeft={88} areaRight={851}
        xMin={-0.01284} xMax={0.3444} yMin={-7.3} yMax={182.4} yTickPad={3.5} xTitleY={2447.5} yTitleX={17} />
      <TsnePanel title="Sox4 (507g)" levelIndex={4} top={1657} height={806} titleY={1675.5} areaTop={1695} areaBottom={2382} xTitleY={2447.5} />
    </div>
  );
}
